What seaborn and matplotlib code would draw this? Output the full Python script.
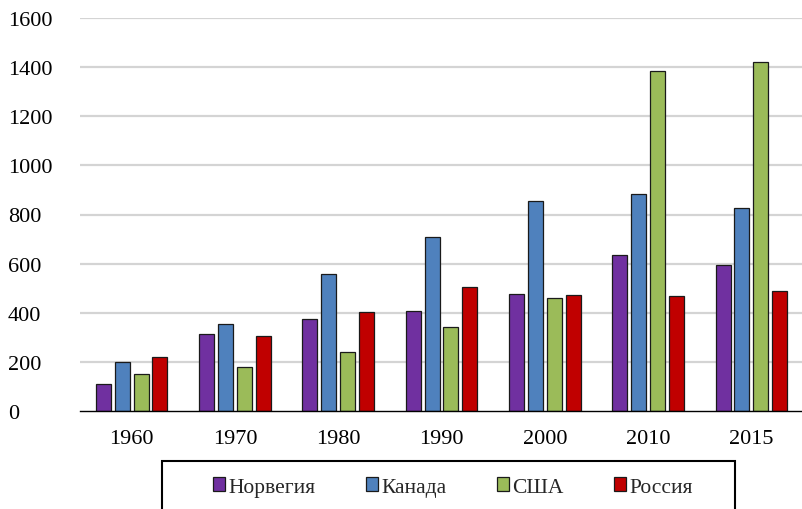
import matplotlib
matplotlib.use("Agg")
import matplotlib.pyplot as plt
from matplotlib.patches import Rectangle
import seaborn as sns
import pandas as pd

# Values by year for each country
years = ["1960", "1970", "1980", "1990", "2000", "2010", "2015"]
countries = ["Норвегия", "Канада", "США", "Россия"]
norway = [110, 313, 374, 409, 477, 635, 593]
canada = [200, 354, 559, 708, 854, 882, 825]
usa = [150, 181, 240, 344, 459, 1386, 1419]
russia = [218, 306, 404, 504, 473, 470, 488]
colors = ["#7030A0", "#4F81BD", "#9BBB59", "#C00000"]
y_ticks = [0, 200, 400, 600, 800, 1000, 1200, 1400, 1600]

df = pd.DataFrame({
    "year": years * 4,
    "country": [c for c in countries for _ in years],
    "value": norway + canada + usa + russia,
})

sns.set_theme(style="white")
plt.rcParams["font.family"] = ["Liberation Serif", "DejaVu Serif"]

W, H = 803, 510
fig = plt.figure(figsize=(W / 100, H / 100), dpi=100)
ax = fig.add_axes([80 / W, (H - 412) / H, (W - 80) / W, (412 - 19) / H])

sns.barplot(
    data=df, x="year", y="value", hue="country", order=years,
    hue_order=countries, palette=colors, width=0.73, gap=0.2,
    edgecolor="#1a1a1a", linewidth=0.9, saturation=1, ax=ax, zorder=3,
)

ax.set_ylim(0, 1600)
ax.set_yticks(y_ticks)
ax.set_yticklabels([str(v) for v in y_ticks])
ax.set_xlabel("")
ax.set_ylabel("")
for v in y_ticks[1:]:
    ax.axhline(v, color="#D4D4D4", linewidth=1.6, zorder=1)

for side in ["left", "right", "top"]:
    ax.spines[side].set_visible(False)
ax.spines["bottom"].set_color("black")
ax.spines["bottom"].set_linewidth(1.0)
ax.spines["bottom"].set_zorder(4)

ax.tick_params(axis="y", length=0, pad=52, labelsize=16, colors="black")
ax.tick_params(axis="x", length=0, pad=13, labelsize=16, colors="black")
for lbl in ax.get_yticklabels():
    lbl.set_horizontalalignment("left")

ax.get_legend().remove()
handles = [Rectangle((0, 0), 1, 1, facecolor=c, edgecolor="#1a1a1a", linewidth=0.9)
           for c in colors]
fig.legend(
    handles, countries, loc="center", ncol=4,
    bbox_to_anchor=(453 / W, 1 - 488 / H), frameon=False, fontsize=15.5,
    handlelength=0.56, handleheight=0.56, handletextpad=0.15,
    columnspacing=2.35,
)
fig.patches.append(Rectangle(
    (162 / W, 1 - 522 / H), (735 - 162) / W, 60 / H,
    transform=fig.transFigure, fill=False, edgecolor="black",
    linewidth=1.5, clip_on=False,
))

fig.savefig("out.png", dpi=100)
